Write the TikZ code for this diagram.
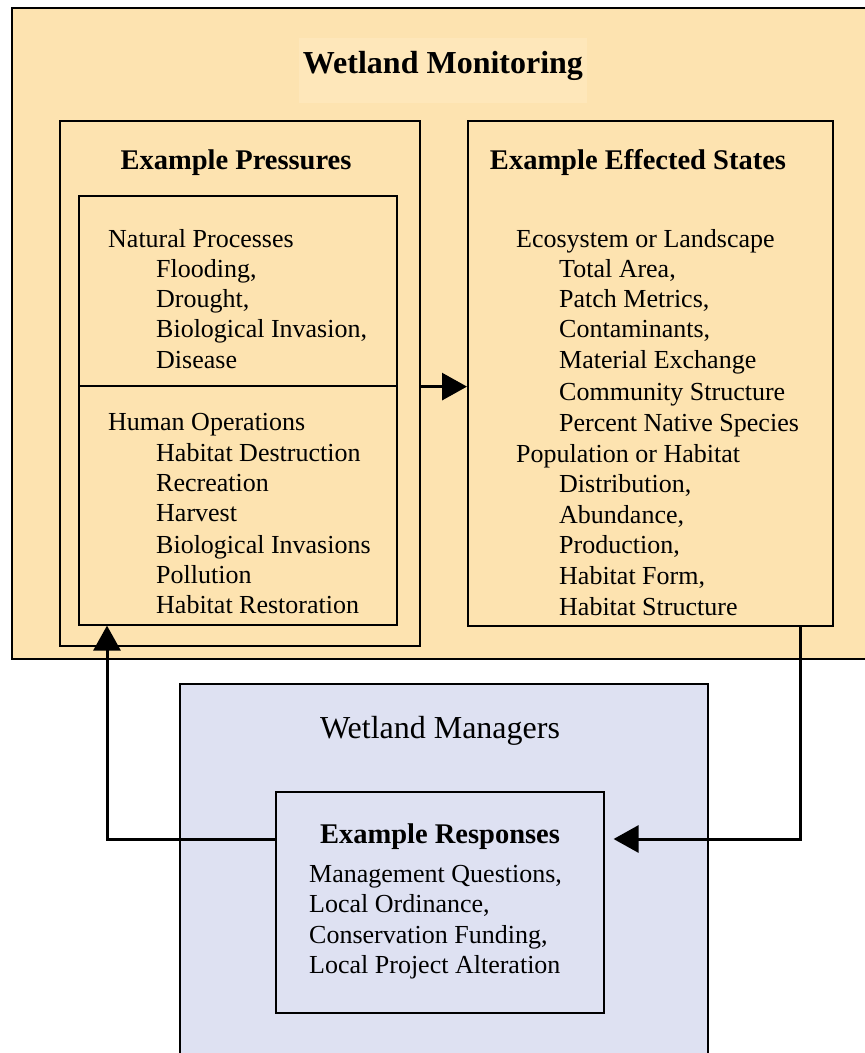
\documentclass[tikz,border=0pt]{standalone}
\usepackage{fontspec}
\setmainfont{Liberation Serif}
\usetikzlibrary{arrows.meta}

\definecolor{monfill}{RGB}{253,227,176}
\definecolor{titfill}{RGB}{254,231,186}
\definecolor{manfill}{RGB}{222,225,242}

\tikzset{
  box/.style={draw, line width=1.6pt, inner sep=0pt, anchor=north west},
  item/.style={anchor=base west, inner sep=0pt, font=\fontsize{26}{30}\selectfont},
  head/.style={anchor=base, inner sep=0pt, font=\fontsize{28.5}{32}\selectfont\bfseries},
  link/.style={line width=3pt},
  tip/.style={-{Triangle[length=25pt,width=27pt]}}
}

\begin{document}
\begin{tikzpicture}[x=1pt,y=-1pt]
\useasboundingbox (0,0) rectangle (865,1053);
\clip (0,0) rectangle (865,1053);
% Wetland Monitoring frame
\node[box, fill=monfill, minimum width=870pt, minimum height=651pt] (mon) at (11,7) {};
\node[anchor=base, fill=titfill, inner xsep=4pt, inner ysep=0pt, text height=35pt, text depth=30pt,
  font=\fontsize{32}{36}\selectfont\bfseries] (title) at (443,73) {Wetland Monitoring};
% Pressures
\node[box, minimum width=360pt, minimum height=525pt] (press) at (59,120) {};
\node[box, minimum width=318pt, minimum height=190pt] (natbox) at (78,195) {};
\node[box, minimum width=318pt, minimum height=239pt] (humbox) at (78,385) {};
\node[head] (presshead) at (236,169) {Example Pressures};
\node[item] (np0) at (108,247) {Natural Processes};
\node[item] (np1) at (156,277) {Flooding,};
\node[item] (np2) at (156,307) {Drought,};
\node[item] (np3) at (156,337) {Biological Invasion,};
\node[item] (np4) at (156,368) {Disease};
\node[item] (ho0) at (108,430) {Human Operations};
\node[item] (ho1) at (156,461) {Habitat Destruction};
\node[item] (ho2) at (156,491) {Recreation};
\node[item] (ho3) at (156,521) {Harvest};
\node[item] (ho4) at (156,553) {Biological Invasions};
\node[item] (ho5) at (156,583) {Pollution};
\node[item] (ho6) at (156,613) {Habitat Restoration};
% Effected states
\node[box, minimum width=365pt, minimum height=505pt] (states) at (467,120) {};
\node[head] (statehead) at (638,169) {Example Effected States};
\node[item] (es0) at (516,247) {Ecosystem or Landscape};
\node[item] (es1) at (559,277) {Total Area,};
\node[item] (es2) at (559,307) {Patch Metrics,};
\node[item] (es3) at (559,337) {Contaminants,};
\node[item] (es4) at (559,368) {Material Exchange};
\node[item] (es5) at (559,400) {Community Structure};
\node[item] (es6) at (559,431) {Percent Native Species};
\node[item] (ph0) at (516,462) {Population or Habitat};
\node[item] (ph1) at (559,492) {Distribution,};
\node[item] (ph2) at (559,523) {Abundance,};
\node[item] (ph3) at (559,553) {Production,};
\node[item] (ph4) at (559,584) {Habitat Form,};
\node[item] (ph5) at (559,615) {Habitat Structure};
% Wetland Managers
\node[box, fill=manfill, minimum width=528pt, minimum height=400pt] (man) at (179,683) {};
\node[anchor=base, inner sep=0pt, font=\fontsize{32}{36}\selectfont] (manhead) at (440,738) {Wetland Managers};
\node[box, minimum width=328pt, minimum height=221pt] (resp) at (275,791) {};
\node[head] (resphead) at (440,843) {Example Responses};
\node[item] (er1) at (309,882) {Management Questions,};
\node[item] (er2) at (309,912) {Local Ordinance,};
\node[item] (er3) at (309,943) {Conservation Funding,};
\node[item] (er4) at (309,973) {Local Project Alteration};
% Connectors
\coordinate (lk) at (107,839);
\coordinate (rk) at (800,839);
\draw[link,tip] (press.east |- natbox.south) -- (states.west |- natbox.south);
\draw[link,tip] (states.south -| rk) -- (rk) -- ([xshift=9pt]resp.east |- rk);
\draw[link,tip] (resp.west |- lk) -- (lk) -- (lk |- humbox.south);
\end{tikzpicture}
\end{document}
